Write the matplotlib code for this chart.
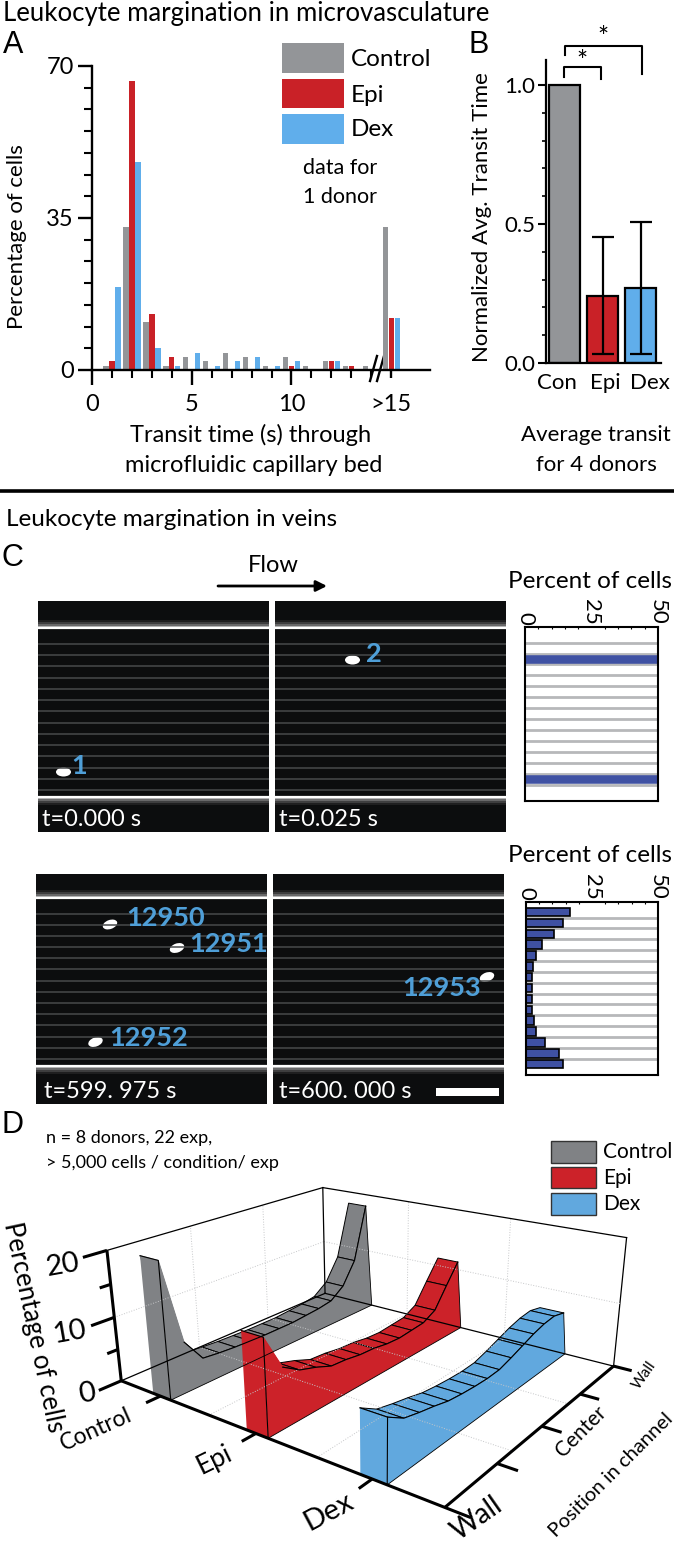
import numpy as np
import matplotlib
matplotlib.use("Agg")
import matplotlib.pyplot as plt
from matplotlib.patches import Ellipse, Rectangle

plt.rcParams["font.family"] = ["Lato", "DejaVu Sans"]

W, H = 674, 1544
GRAY, RED, BLUE = "#939598", "#c92127", "#60aeeb"
D_GRAY, D_RED, D_BLUE = "#808285", "#cc2229", "#61a8de"
LABEL_BLUE = "#4f9fd8"
BAR_BLUE = "#3f51a3"

# panel A
transit_ticks = [1, 2, 3, 4, 5, 6, 7, 8, 9, 10, 11, 12, 13, 14, 15]
control_pct = [1, 33, 11, 1, 3, 2, 4, 3, 1, 3, 1, 2, 1, 1, 33]
epi_pct = [2, 66.5, 13, 3, 0, 0, 0, 0, 0, 1, 0, 2, 1, 0, 12]
dex_pct = [19, 48, 5, 1, 4, 1, 2, 3, 1, 2, 0, 2, 0, 0, 12]

# panel B
avg_labels = ["Con", "Epi", "Dex"]
avg_values = [1.0, 0.24, 0.27]
avg_err_low = [0, 0.208, 0.238]
avg_err_high = [0, 0.213, 0.237]

# panel C
pct_top = [0, 0, 50, 0, 0, 0, 0, 0, 0, 0, 0, 0, 0, 50, 0]
pct_bottom = [16.8, 13.9, 10.7, 5.9, 3.8, 2.5, 2.1, 2.1, 2.4, 2.3, 2.9, 3.8, 7.3, 12.6, 13.9]

# panel D, 15 positions across the channel
control_profile = [20.5, 7.7, 4.1, 3.8, 3.6, 3.5, 3.4, 3.4, 3.4, 3.6, 3.8, 4.2, 5.9, 9.6, 18.5]
epi_profile = [14, 8.8, 7.2, 6.4, 5.4, 5.2, 4.8, 4.65, 4.25, 4.1, 4.3, 4.5, 5.6, 8.8, 11.9]
dex_profile = [8.8, 7.3, 6.7, 6.2, 5.6, 5.3, 5.1, 5.0, 5.1, 5.7, 6.4, 7.1, 7.6, 7.8, 7.3]
ribbon_edges = [(0.099, 0.153), (0.388, 0.454), (0.739, 0.822)]
group_labels = ["Control", "Epi", "Dex"]

fig = plt.figure(figsize=(W / 100, H / 100), dpi=100)


def px_axes(left, top, right, bottom, **kw):
    return fig.add_axes([left / W, 1 - bottom / H, (right - left) / W, (bottom - top) / H], **kw)


page = px_axes(0, 0, W, H)
page.set_xlim(0, W)
page.set_ylim(H, 0)
page.axis("off")


def label(x, y, s, size=17, ha="center", va="center", **kw):
    page.text(x, y, s, fontsize=size, ha=ha, va=va, **kw)


# titles and panel letters
label(3, 14, "Leukocyte margination in microvasculature", 18.5, ha="left")
label(6, 519, "Leukocyte margination in veins", 17.5, ha="left")
page.plot([0, W], [491, 491], color="black", lw=2.6)
for x, y, s in [(13, 45, "A"), (479, 45, "B"), (12, 558, "C"), (12, 1125, "D")]:
    page.text(x, y, s, fontsize=22, ha="center", va="center", family="Liberation Sans")

# ---- panel A ----
ax_a = px_axes(92, 66, 430, 370)
ax_a.patch.set_alpha(0)
x = np.array(transit_ticks)
bar_w = 0.27
ax_a.bar(x - 0.3, control_pct, bar_w, color=GRAY)
ax_a.bar(x, epi_pct, bar_w, color=RED)
ax_a.bar(x + 0.3, dex_pct, bar_w, color=BLUE)
ax_a.set_xlim(0, 338 / 19.95)
ax_a.set_ylim(0, 70)
ax_a.spines[["top", "right"]].set_visible(False)
ax_a.spines[["left", "bottom"]].set_linewidth(1.7)
ax_a.set_xticks([0, 5, 10, 15], ["0", "5", "10", ">15"], fontsize=17)
ax_a.set_xticks(range(1, 15), minor=True)
ax_a.set_yticks([0, 35, 70], ["0", "35", "70"], fontsize=17)
ax_a.set_yticks(range(5, 70, 5), minor=True)
ax_a.tick_params(axis="x", which="major", length=11, width=1.7, pad=6)
ax_a.tick_params(axis="x", which="minor", length=6, width=1.5)
ax_a.tick_params(axis="y", which="major", length=10, width=1.7, pad=3)
ax_a.tick_params(axis="y", which="minor", length=6, width=1.5)
ax_a.xaxis.get_major_ticks()[3].tick1line.set_markersize(6)
# axis break
page.fill([372, 380, 380, 372], [366, 366, 374, 374], color="white", zorder=5)
for bx in (373, 380):
    page.plot([bx - 3, bx + 4], [381, 356], color="black", lw=1.7, zorder=6)
label(17, 237, "Percentage of cells", 16, rotation=90)
label(251, 435, "Transit time (s) through", 17)
label(254, 465, "microfluidic capillary bed", 17)
for (top, bottom), c, s, ty in zip([(43, 73), (79, 108), (114, 144)], [GRAY, RED, BLUE],
                                   ["Control", "Epi", "Dex"], [59, 95, 130]):
    page.add_patch(Rectangle((282, top), 62, bottom - top, color=c, lw=0))
    label(351, ty, s, 17.5, ha="left")
label(340, 168, "data for", 15.5)
label(340, 197, "1 donor", 15.5)

# ---- panel B ----
ax_b = px_axes(546, 60, 661, 363)
ax_b.patch.set_alpha(0)
pos = np.arange(3)
ax_b.bar(pos, avg_values, 0.81, color=[GRAY, RED, BLUE], edgecolor="black", lw=1.6)
ax_b.errorbar(pos[1:], avg_values[1:], yerr=[avg_err_low[1:], avg_err_high[1:]], fmt="none",
              ecolor="black", elinewidth=1.6, capsize=8, capthick=1.6)
ax_b.set_xlim(-0.487, 2.526)
ax_b.set_ylim(0, 303 / 278)
ax_b.spines[["top", "right"]].set_visible(False)
ax_b.spines[["left", "bottom"]].set_linewidth(1.6)
ax_b.set_xticks([-0.2, 1.06, 2.24], avg_labels, fontsize=16)
ax_b.set_yticks([0, 0.5, 1], ["0.0", "0.5", "1.0"], fontsize=16)
ax_b.set_yticks(np.arange(0.1, 1, 0.1), minor=True)
ax_b.tick_params(axis="x", length=0, pad=7)
ax_b.tick_params(axis="y", which="major", length=6, width=1.5, pad=2)
ax_b.tick_params(axis="y", which="minor", length=3, width=1.2)
label(482, 217, "Normalized Avg. Transit Time", 16, rotation=90)
label(596, 435, "Average transit", 16)
label(596, 465, "for 4 donors", 16)
page.plot([565, 565, 642, 642], [55, 46, 46, 74], color="black", lw=1.5)
page.plot([564, 564, 601, 601], [77, 67, 67, 79], color="black", lw=1.5)
label(603, 38, "*", 19)
label(582, 63, "*", 19)


# ---- panel C ----
def channel_panel(left, right, top, bottom, wall_top, wall_bot, cells, stamp, stamp_x):
    page.add_patch(Rectangle((left, top), right - left, bottom - top, color="#0c0d0e", lw=0))
    for y in np.linspace(wall_top + 16, wall_bot - 7, 14):
        page.plot([left, right], [y, y], color="#484a4b", lw=1.1, solid_capstyle="butt")
    for wall, side in ((wall_top, -1), (wall_bot, 1)):
        for off, a in ((8, 0.08), (6, 0.14), (4, 0.22), (2, 0.45)):
            page.add_patch(Rectangle((left, min(wall, wall + side * off)), right - left, off,
                                     color="white", alpha=a, lw=0))
        page.plot([left, right], [wall, wall], color="white", lw=1.6, solid_capstyle="butt")
    for cx, cy, tx, ty, s in cells:
        page.add_patch(Ellipse((cx, cy), 15, 9, angle=-20 if len(s) > 1 else 0, color="white", lw=0))
        label(tx, ty, s, 19.5, color=LABEL_BLUE, fontweight="bold")
    page.text(stamp_x, bottom - 12, stamp, fontsize=17, color="white", ha="left", va="center")


channel_panel(38, 269, 601, 832, 628, 797, [(63.5, 772, 79, 766, "1")], "t=0.000 s", 42)
channel_panel(275, 506, 601, 832, 628, 797, [(352.5, 660, 374, 654, "2")], "t=0.025 s", 279)
channel_panel(36, 267, 874, 1104, 897.5, 1066,
              [(110, 924.5, 166, 918.5, "12950"), (177, 948, 229, 944, "12951"),
               (95.5, 1042, 149, 1038, "12952")], "t=599. 975 s", 44)
channel_panel(273, 504, 874, 1104, 897.5, 1066, [(487, 977, 442, 988, "12953")], "t=600. 000 s", 279)
page.add_patch(Rectangle((436, 1088), 63, 8, color="white", lw=0))
label(273, 565, "Flow", 17)
page.annotate("", xy=(327, 586), xytext=(218, 586),
              arrowprops=dict(arrowstyle="-|>", color="black", lw=2, mutation_scale=16, shrinkA=0, shrinkB=0))
label(590, 581, "Percent of cells", 17.5)
label(590, 856, "Percent of cells", 17.5)


def side_bars(left, top, right, bottom, values, edge, edge_w):
    ax = px_axes(left, top, right, bottom)
    bins = np.arange(1, 16)
    ax.hlines(bins[:-1] + 0.5, 0, 50, color="#b7b8ba", lw=2, zorder=1)
    ax.barh(bins, values, 0.78, color=BAR_BLUE, edgecolor=edge, lw=edge_w, zorder=2)
    ax.set_xlim(0, 50)
    ax.set_ylim(16, 0.07)
    ax.xaxis.tick_top()
    ax.set_xticks([0, 25, 50], ["0", "25", "50"], rotation=270, fontsize=16)
    ax.set_xticks(np.arange(5, 50, 5), minor=True)
    ax.tick_params(axis="x", which="major", length=0, pad=1.5)
    ax.tick_params(axis="x", which="minor", length=1.5, width=0.8, direction="in")
    ax.set_yticks([])
    for sp in ax.spines.values():
        sp.set_linewidth(1.5)


side_bars(525, 627, 658, 801, pct_top, BAR_BLUE, 0.4)
side_bars(526, 902, 658, 1075, pct_bottom, "black", 1.2)


# ---- panel D ----
box_uvw = np.array([[0, 0, 0], [0, 0, 1], [1, 0, 0], [1, 1, 0], [1, 1, 1], [0, 1, 1], [0, 1, 0]], float)
box_px = np.array([[122, 1381], [106, 1250.5], [445, 1507], [614, 1367], [626, 1237], [324, 1188], [324, 1292.7]])


def fit_camera(world, image):
    rows = []
    for (a, b, c), (px, py) in zip(world, image):
        rows.append([a, b, c, 1, 0, 0, 0, 0, -px * a, -px * b, -px * c, -px])
        rows.append([0, 0, 0, 0, a, b, c, 1, -py * a, -py * b, -py * c, -py])
    return np.linalg.svd(np.array(rows))[2][-1].reshape(3, 4)


camera = fit_camera(box_uvw, box_px)


def proj(u, v, w):
    pts = np.column_stack([u, v, w, np.ones(np.broadcast(u, v, w).size)]) if np.ndim(u) else None
    if pts is None:
        pts = np.array([[u, v, w, 1.0]])
    q = pts @ camera.T
    return q[:, 0] / q[:, 2], q[:, 1] / q[:, 2]


def line3d(a, b, **kw):
    xa, ya = proj(*a)
    xb, yb = proj(*b)
    page.plot([xa[0], xb[0]], [ya[0], yb[0]], **kw)


def edge_u(frac):
    # position along the front edge, measured on the picture, back to box units
    grid = np.linspace(0, 1, 400)
    gx = np.array([proj(g, 0.0, 0.0)[0][0] for g in grid])
    return np.interp(frac, (gx - gx[0]) / (gx[-1] - gx[0]), grid)


grid_kw = dict(color="#c6c7c9", lw=0.7, ls=":")
thin = dict(color="black", lw=0.9)
for g in (0.33, 0.67):
    line3d((0, g, 0), (0, g, 1), **grid_kw)
    line3d((g, 1, 0), (g, 1, 1), **grid_kw)
    line3d((g, 0, 0), (g, 1, 0), **grid_kw)
    line3d((0, g, 0), (1, g, 0), **grid_kw)
line3d((1, 1, 0), (1, 1, 1), **thin)
line3d((0, 0, 0.5), (0, 1, 0.5), **grid_kw)
line3d((0, 1, 0.5), (1, 1, 0.5), **grid_kw)
line3d((0, 0, 1), (0, 1, 1), **thin)
line3d((0, 1, 1), (1, 1, 1), **thin)
line3d((0, 1, 0), (0, 1, 1), **thin)
line3d((0, 0, 0), (0, 1, 0), **thin)
line3d((0, 1, 0), (1, 1, 0), **thin)

ZMAX = 20.0
TOP_REACH = 0.965  # the crest stops a little short of the far wall
for profile, color, (f0, f1) in zip([control_profile, epi_profile, dex_profile],
                                    [D_GRAY, D_RED, D_BLUE], ribbon_edges):
    u0, u1 = edge_u(f0), edge_u(f1)
    w = np.array(profile) / ZMAX
    v = np.linspace(0, 1, len(w))
    vt = v * TOP_REACH
    ones = np.ones_like(v)
    # a steep first step carries no outline
    first = 0 if w[0] - w[1] < 0.15 else 1
    for i in range(len(v) - 2, -1, -1):
        xa, ya = proj(np.array([u0, u1, u1, u0]), np.array([vt[i], vt[i], vt[i + 1], vt[i + 1]]),
                      np.array([w[i], w[i], w[i + 1], w[i + 1]]))
        page.fill(xa, ya, facecolor=color, edgecolor="black" if i >= first else color, lw=0.7)
    # long side
    xs, ys = proj(u1 * ones, vt, w)
    xb, yb = proj(u1 * ones, v, 0 * ones)
    page.fill(np.r_[xs, xb[::-1]], np.r_[ys, yb[::-1]], facecolor=color, edgecolor="none")
    page.plot(xs[first:], ys[first:], color="black", lw=0.8)
    page.plot(np.r_[xs[-1], xb[::-1]], np.r_[ys[-1], yb[::-1]], color="black", lw=0.6)
    # front face
    xf, yf = proj(np.array([u0, u1, u1, u0]), np.zeros(4), np.array([0, 0, w[0], w[0]]))
    page.fill(xf, yf, facecolor=color, edgecolor="none")
    page.plot(xf[1:], yf[1:], color="black", lw=0.8)

heavy = dict(color="black", lw=2.2, solid_capstyle="butt")
line3d((0, 0, 0), (1.06, 0, 0), **heavy)
line3d((1, 0, 0), (1, 1, 0), **heavy)
line3d((0, 0, 0), (0, 0, 1), **heavy)
for z, ln in [(0, 0.085), (0.25, 0.04), (0.5, 0.085), (0.75, 0.04), (1, 0.085)]:
    line3d((0, 0, z), (0, -ln, z), **heavy)
for f0, f1 in ribbon_edges:
    c = edge_u(0.5 * (f0 + f1) - 0.005)
    line3d((c, 0, 0), (c, -0.055, 0), **heavy)
for vv in (0.25, 0.5, 0.75, 1.0):
    line3d((1, vv, 0), (1.05, vv, 0), **heavy)

label(33, 1327, "Percentage of cells", 18.5, rotation=-78)
label(63, 1265, "20", 21, rotation=10)
label(70, 1332, "10", 21, rotation=10)
label(87, 1394, "0", 21, rotation=10)
label(96, 1430, group_labels[0], 16.5, rotation=24)
label(214, 1460, group_labels[1], 19, rotation=26)
label(329, 1512, group_labels[2], 21, rotation=28)
label(477, 1518, "Wall", 20, rotation=35)
label(581, 1432, "Center", 15, rotation=45)
label(644, 1375, "Wall", 11, rotation=55)
label(611, 1475, "Position in channel", 14.5, rotation=45)
label(46, 1138, "n = 8 donors, 22 exp,", 13, ha="left")
label(46, 1163, "> 5,000 cells / condition/ exp", 13, ha="left")
for (top, bottom), c, s in zip([(1141, 1163), (1167, 1188), (1193, 1215)], [D_GRAY, D_RED, D_BLUE], group_labels):
    page.add_patch(Rectangle((551, top), 45, bottom - top, facecolor=c, edgecolor="#333333", lw=1))
    label(603, (top + bottom) / 2, s, 15, ha="left")

fig.savefig("out.png", dpi=100)
